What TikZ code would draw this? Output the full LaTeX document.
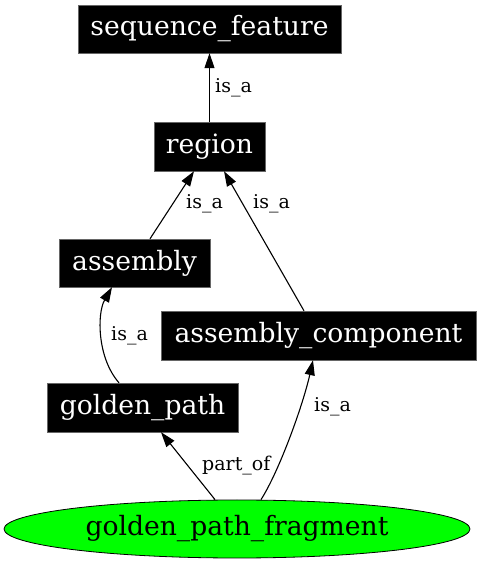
\documentclass[tikz,border=0pt]{standalone}
\usepackage{fontspec}
\setmainfont{DejaVu Serif}
\usetikzlibrary{arrows.meta,shapes.geometric}

\begin{document}
\begin{tikzpicture}[x=1pt,y=1pt,
  term/.style={fill=black,draw=black!60,text=white,inner sep=0pt,
    font=\fontsize{26.6}{30}\selectfont},
  lbl/.style={anchor=west,inner sep=0pt,font=\fontsize{19}{22}\selectfont},
  rel/.style={-{Triangle[length=15pt,width=10pt]},line width=1.1pt}]
%picture
\useasboundingbox (0,0) rectangle (481,563);
\node[term,minimum width=263pt,minimum height=48pt] (seqfeat) at (209.5,534) {sequence\_feature};
\node[term,minimum width=111pt,minimum height=49pt] (region) at (209.5,416.5) {region};
\node[term,minimum width=151pt,minimum height=48pt] (assembly) at (134.5,300) {assembly};
\node[term,minimum width=315pt,minimum height=49pt] (asmcomp) at (318.5,227.5) {assembly\_component};
\node[term,minimum width=191pt,minimum height=49pt] (golden) at (142.5,155.5) {golden\_path};
\node[ellipse,fill=green,draw=black,line width=0.8pt,inner sep=0pt,minimum width=466pt,minimum height=58pt,
  font=\fontsize{26.6}{30}\selectfont] (fragment) at (237,34) {golden\_path\_fragment};
\draw[rel] (region.north) -- (seqfeat.south);
\draw[rel] ([xshift=15.5pt]assembly.north) -- ([xshift=-15.5pt]region.south);
\draw[rel] ([xshift=-14.5pt]asmcomp.north) -- ([xshift=14.5pt]region.south);
\draw[rel] ([xshift=-23.5pt]golden.north) .. controls +(-22,25) and +(-15,-26) .. ([xshift=-22.5pt]assembly.south);
\draw[rel] ([xshift=-22pt]fragment.north) -- ([xshift=18.5pt]golden.south);
\draw[rel] ([xshift=24pt]fragment.north) .. controls +(18,28) and +(-10,-45) .. ([xshift=-5.5pt]asmcomp.south);
\node[lbl] (l1) at (215,475) {is\_a};
\node[lbl] (l2) at (186,359) {is\_a};
\node[lbl] (l3) at (253,359) {is\_a};
\node[lbl] (l4) at (111,227) {is\_a};
\node[lbl] (l5) at (314,156) {is\_a};
\node[lbl] (l6) at (202,97) {part\_of};
\end{tikzpicture}
\end{document}
